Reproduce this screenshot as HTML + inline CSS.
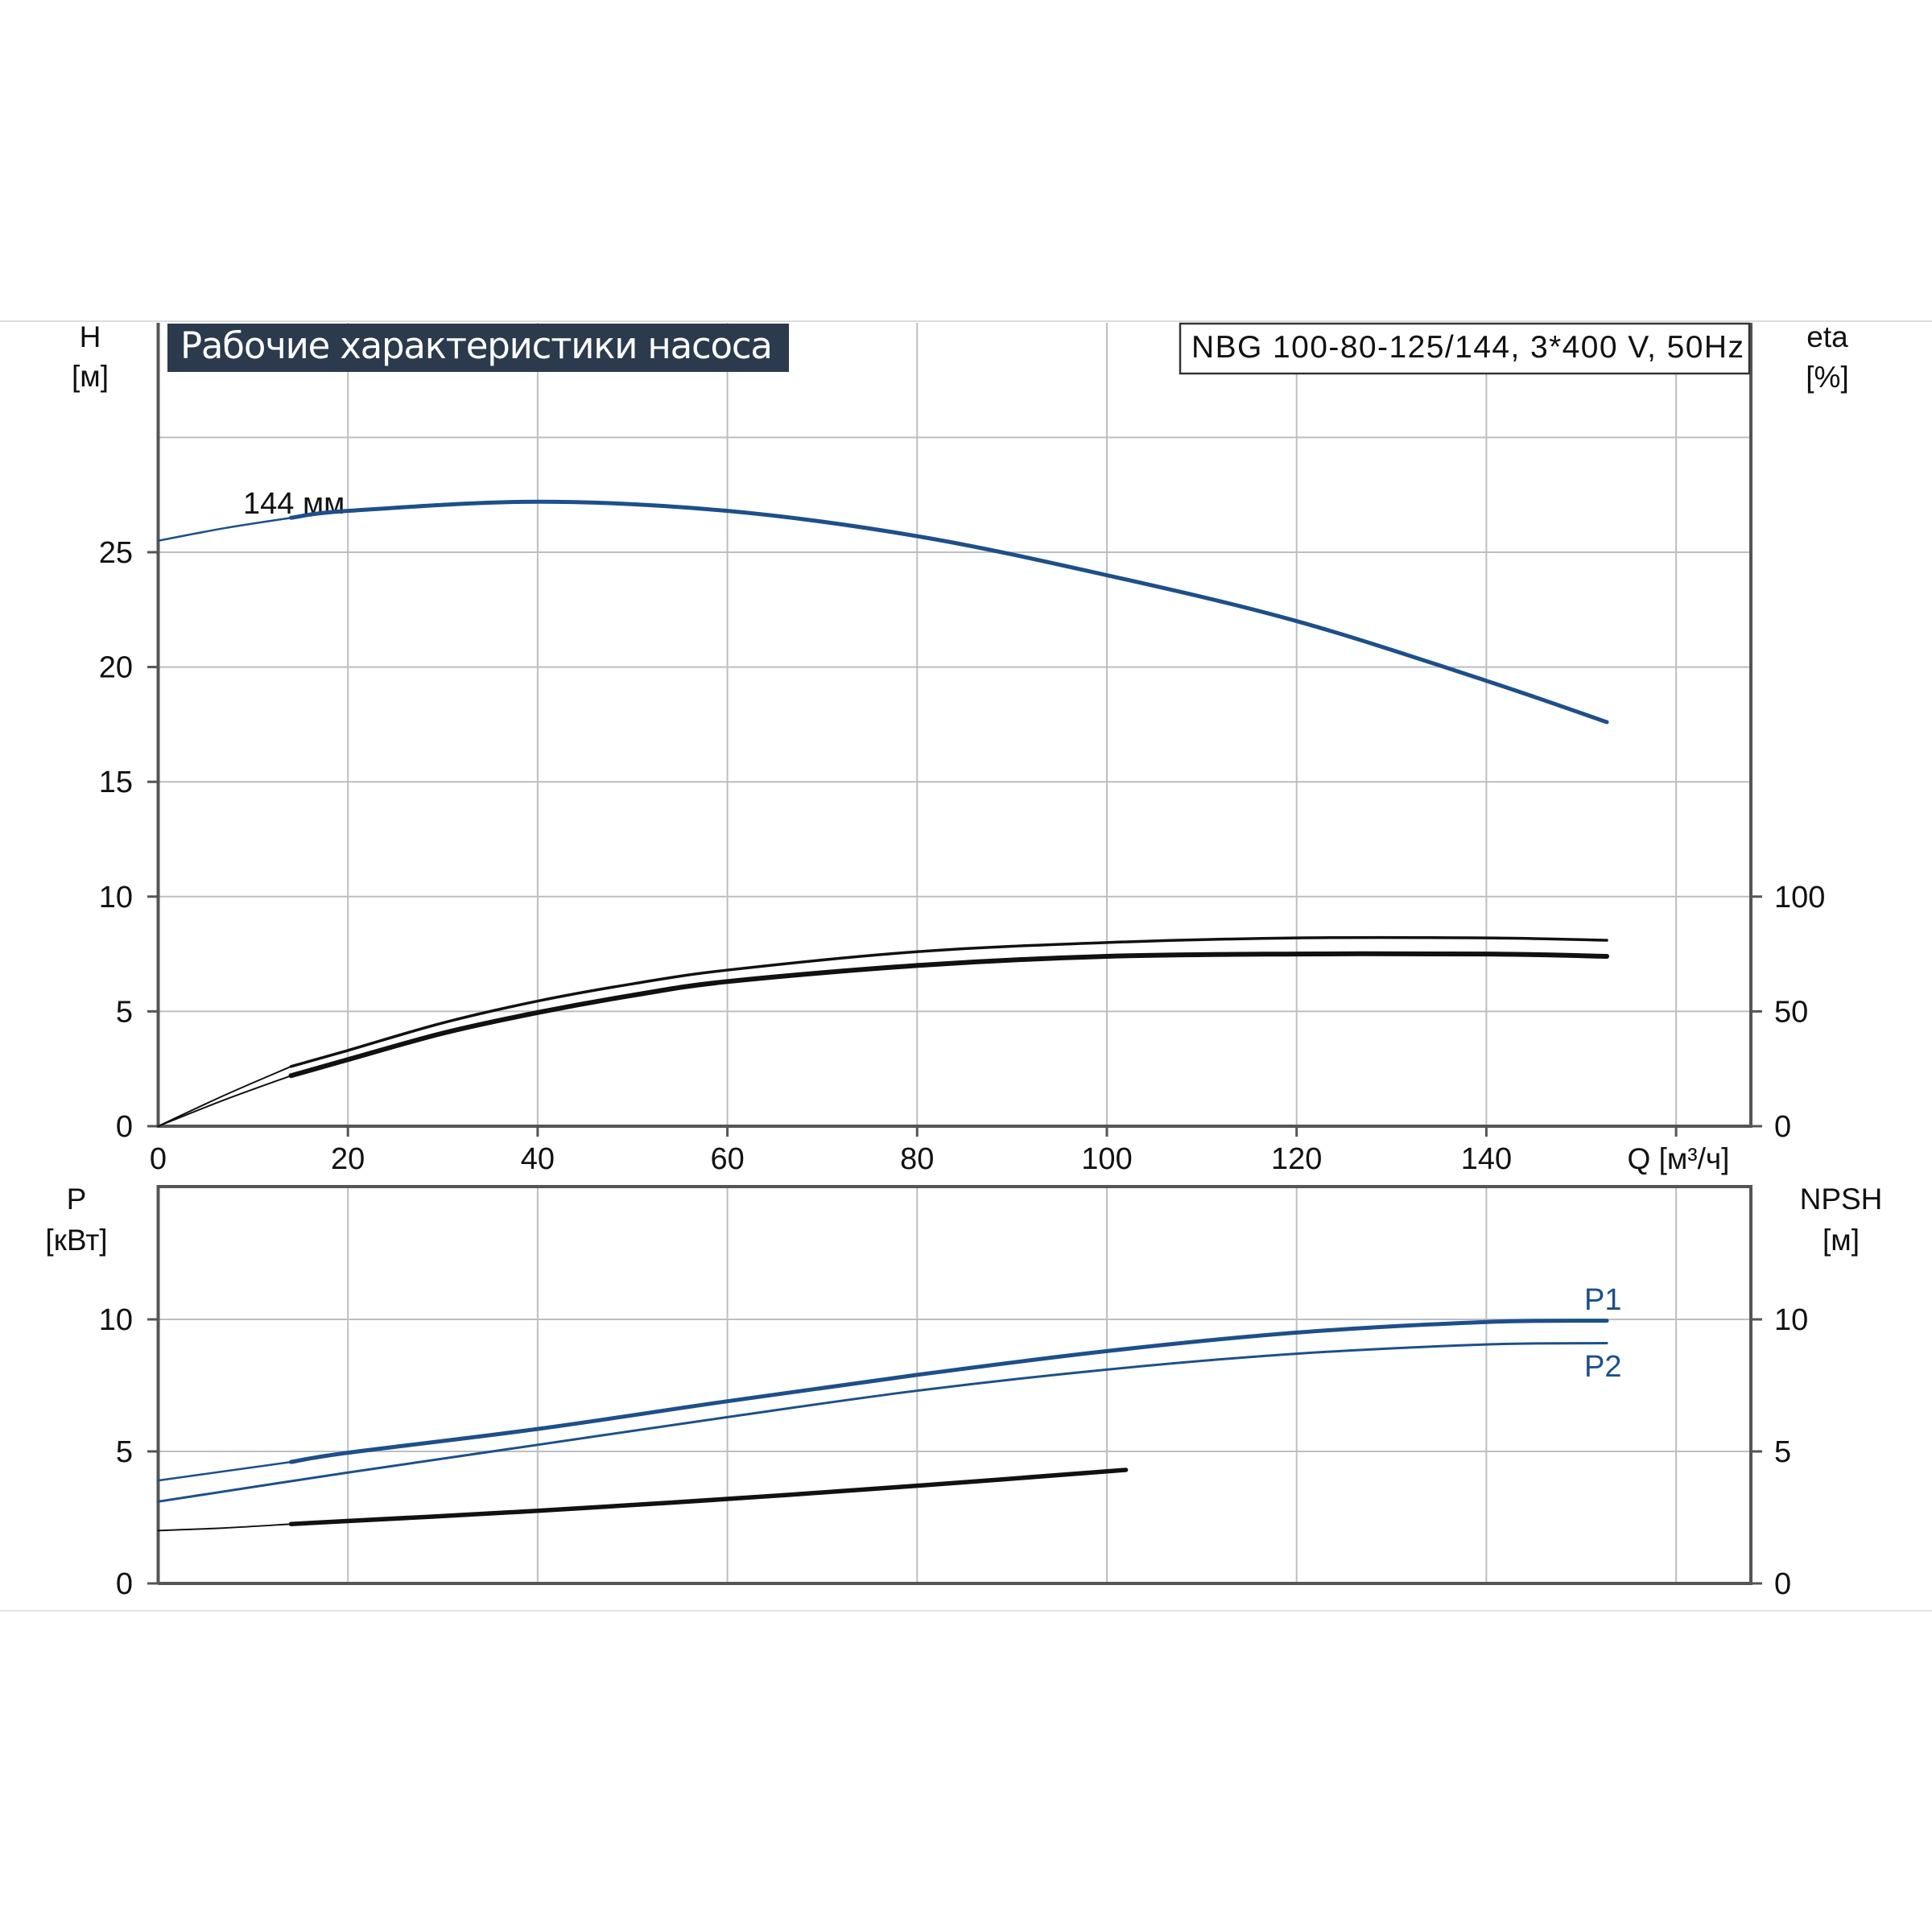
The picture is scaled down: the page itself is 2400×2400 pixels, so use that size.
<!DOCTYPE html>
<html><head><meta charset="utf-8"><style>
html,body{margin:0;padding:0;background:#fff;}
svg{display:block}
text{font-family:"Liberation Sans",sans-serif;fill:#111}
</style></head><body>
<svg id="s" width="2400" height="2400" xmlns="http://www.w3.org/2000/svg">
<line x1="0" y1="399" x2="2400" y2="399" stroke="#ddd" stroke-width="2"/>
<line x1="0" y1="2001" x2="2400" y2="2001" stroke="#e4e4e4" stroke-width="2"/>
<g id="grid" stroke="#bcbec2" stroke-width="2"></g>
<g id="axes" stroke="#555" stroke-width="4" fill="none">
<polyline points="196.5,401 196.5,1399 2175,1399 2175,401"/>
<polyline points="196.5,1967 196.5,1474 2175,1474 2175,1967 196.5,1967"/>
</g>
<g id="ticks" stroke="#555" stroke-width="3"></g>
<g id="labels" font-size="38"></g>
<rect x="208" y="402" width="772" height="60" fill="#2b3a4c"/>
<text x="224" y="445" font-size="45" style="fill:#fff;font-family:'DejaVu Sans',sans-serif" textLength="736">Рабочие характеристики насоса</text>
<rect x="1466" y="402" width="707" height="62" fill="#fff" stroke="#333" stroke-width="2.5"/>
<text x="1480" y="444" font-size="39" textLength="686">NBG 100-80-125/144, 3*400 V, 50Hz</text>
<text x="302" y="638" font-size="38">144 мм</text>
<text x="112" y="431" font-size="37" text-anchor="middle">H</text>
<text x="112" y="480" font-size="37" text-anchor="middle">[м]</text>
<text x="2270" y="431" font-size="37" text-anchor="middle">eta</text>
<text x="2270" y="481" font-size="37" text-anchor="middle">[%]</text>
<text x="95" y="1502" font-size="37" text-anchor="middle">P</text>
<text x="95" y="1553" font-size="37" text-anchor="middle">[кВт]</text>
<text x="2287" y="1502" font-size="37" text-anchor="middle">NPSH</text>
<text x="2287" y="1553" font-size="37" text-anchor="middle">[м]</text>
<text x="2085" y="1452" font-size="37" text-anchor="middle">Q [м³/ч]</text>
<text x="1968" y="1627" font-size="38" style="fill:#1d4f8a">P1</text>
<text x="1968" y="1710" font-size="38" style="fill:#1d4f8a">P2</text>
<g id="curves" fill="none" stroke-linecap="round"></g>
</svg>
<script>
var X=q=>196.5+q*11.785, YH=h=>1399-h*28.52, YP=p=>1967-p*32.8;
var NS="http://www.w3.org/2000/svg";
function el(g,t,a,txt){var e=document.createElementNS(NS,t);for(var k in a)e.setAttribute(k,a[k]);if(txt!=null)e.textContent=txt;document.getElementById(g).appendChild(e);}
for(var q=20;q<=160;q+=20){el('grid','line',{x1:X(q),y1:401,x2:X(q),y2:1399});el('grid','line',{x1:X(q),y1:1474,x2:X(q),y2:1967});
 el('ticks','line',{x1:X(q),y1:1399,x2:X(q),y2:1412});}
for(var h=5;h<=30;h+=5)el('grid','line',{x1:196.5,y1:YH(h),x2:2175,y2:YH(h)});
for(var p=5;p<=10;p+=5)el('grid','line',{x1:196.5,y1:YP(p),x2:2175,y2:YP(p)});
for(var h=0;h<=25;h+=5){el('ticks','line',{x1:183,y1:YH(h),x2:196.5,y2:YH(h)});el('labels','text',{x:165,y:YH(h)+13,'text-anchor':'end'},h);}
[[0,0],[5,50],[10,100]].forEach(a=>{el('ticks','line',{x1:2175,y1:YH(a[0]),x2:2189,y2:YH(a[0])});el('labels','text',{x:2204,y:YH(a[0])+13},a[1]);});
for(var p=0;p<=10;p+=5){el('ticks','line',{x1:183,y1:YP(p),x2:196.5,y2:YP(p)});el('labels','text',{x:165,y:YP(p)+13,'text-anchor':'end'},p);
 el('ticks','line',{x1:2175,y1:YP(p),x2:2189,y2:YP(p)});el('labels','text',{x:2204,y:YP(p)+13},p);}
for(var q=0;q<=140;q+=20)el('labels','text',{x:X(q),y:1452,'text-anchor':'middle'},q);
function path(pts,Y){var P=pts.map(a=>[X(a[0]),Y(a[1])]);var d="M"+P[0][0]+","+P[0][1];
 for(var i=0;i<P.length-1;i++){var p0=P[Math.max(0,i-1)],p1=P[i],p2=P[i+1],p3=P[Math.min(P.length-1,i+2)];
 d+=" C"+(p1[0]+(p2[0]-p0[0])/6)+","+(p1[1]+(p2[1]-p0[1])/6)+" "+(p2[0]-(p3[0]-p1[0])/6)+","+(p2[1]-(p3[1]-p1[1])/6)+" "+p2[0]+","+p2[1];}return d;}
function c(pts,Y,col,w){el('curves','path',{d:path(pts,Y),stroke:col,'stroke-width':w});}
var B="#1d4f8a";
c([[0,25.5],[7,26.05],[14,26.5]],YH,B,2.5);
c([[14,26.5],[20,26.8],[40,27.2],[60,26.8],[80,25.7],[100,24],[120,22],[140,19.4],[152.7,17.6]],YH,B,5);
c([[0,0],[7,1.35],[14,2.6]],YH,"#111",2);
c([[14,2.6],[20,3.3],[30,4.5],[40,5.45],[50,6.2],[60,6.8],[80,7.6],[100,8.0],[120,8.2],[140,8.2],[152.7,8.1]],YH,"#111",3.5);
c([[0,0],[7,1.15],[14,2.2]],YH,"#111",2);
c([[14,2.2],[20,2.9],[30,4.05],[40,4.95],[50,5.7],[60,6.3],[80,7.0],[100,7.4],[120,7.5],[140,7.5],[152.7,7.4]],YH,"#111",6);
c([[0,3.9],[7,4.25],[14,4.6]],YP,B,2.5);
c([[14,4.6],[20,4.95],[40,5.85],[60,6.9],[80,7.9],[100,8.8],[120,9.5],[140,9.9],[152.7,9.95]],YP,B,5);
c([[0,3.1],[20,4.2],[40,5.25],[60,6.3],[80,7.3],[100,8.1],[120,8.7],[140,9.05],[152.7,9.1]],YP,B,3);
c([[0,2.0],[7,2.1],[14,2.25]],YP,"#111",2);
c([[14,2.25],[40,2.75],[60,3.2],[80,3.7],[102,4.3]],YP,"#111",5.5);
</script>
</body></html>
